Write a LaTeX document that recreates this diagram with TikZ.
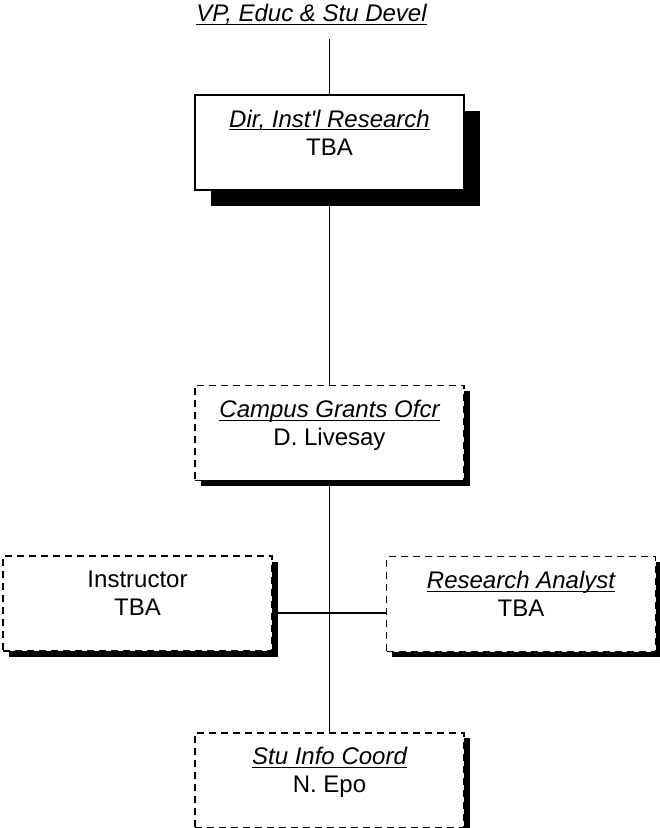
\documentclass[tikz,border=0pt]{standalone}
\usepackage{fontspec}
\setmainfont{Liberation Sans}
\usetikzlibrary{positioning,shadows}
\newcommand\headline[1]{\underline{\raisebox{0pt}[\height][0pt]{\itshape #1}}}
\tikzset{
	>=stealth
}

\begin{document}
\begin{tikzpicture}[
x = 0.5pt, y = -0.5pt,
every node/.style = {
	font = \fontsize{12}{14}\selectfont,
	align = center
},
post/.style = {
	rectangle,
	draw,
	fill = white,
	line width = 0.7pt,
	minimum width = 134.5pt,
	minimum height = 47.5pt
},
filled/.style = {
	post,
	general shadow = {fill = black, shadow xshift = 8pt, shadow yshift = -8pt}
},
vacant/.style = {
	post,
	dash pattern = on 3.5pt off 2.5pt,
	general shadow = {fill = black, shadow xshift = 2.8pt, shadow yshift = -2.8pt}
},
heading/.style = {
	inner sep = 0pt,
	below = 7.5pt of #1.north
},
link/.style = {
	line width = 0.7pt
}
]
\useasboundingbox (0,0) rectangle (659,828);

\node (vp) [inner sep = 0pt, anchor = base] at (311.5,22) {\headline{VP, Educ \& Stu Devel}};
\coordinate (vpend) at ([yshift=-6.5pt]vp.south);

\node (dir) [filled] at (329.5,142.5) {};
\node [heading = dir] (dirtxt) {\headline{Dir, Inst\textquotesingle l Research}\\TBA};

\node (campus) [vacant, below = 97pt of dir] {};
\node [heading = campus] (campustxt) {\headline{Campus Grants Ofcr}\\D. Livesay};

\node (instr) [vacant] at (137.5,603.5) {};
\node [heading = instr] (instrtxt) {Instructor\\TBA};

\node (analyst) [vacant] at (521,604) {};
\node [heading = analyst] (analysttxt) {\headline{Research Analyst}\\TBA};

\node (stu) [vacant, below = 125.5pt of campus] {};
\node [heading = stu] (stutxt) {\headline{Stu Info Coord}\\N. Epo};

\draw[link] (dir.north) -- (dir.north |- vpend);
\draw[link] (dir.south) -- (campus.north);
\draw[link] (campus.south) -- (stu.north);
\draw[link] ([yshift=-4.75pt]instr.east) -- ([yshift=-4.75pt]instr.east -| analyst.west);

\end{tikzpicture}
\end{document}
